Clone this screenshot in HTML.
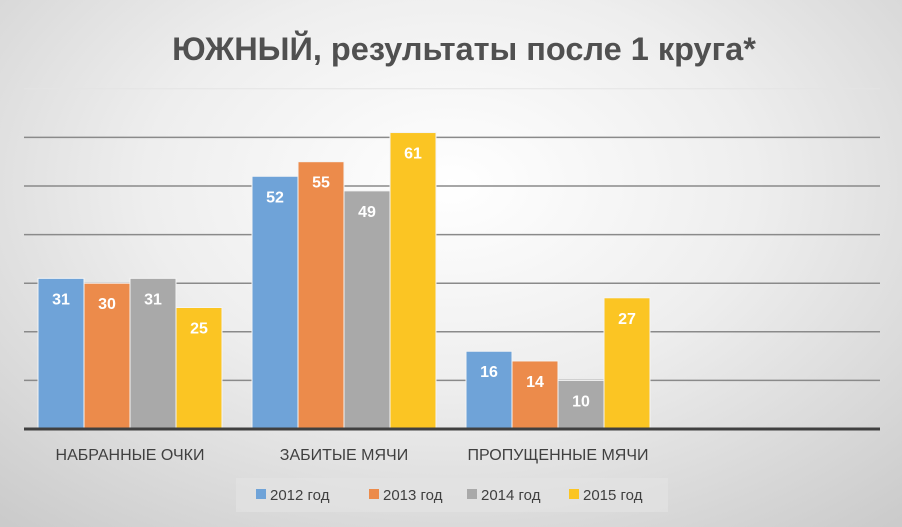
<!DOCTYPE html>
<html><head><meta charset="utf-8"><style>
html,body{margin:0;padding:0;}
body{width:902px;height:527px;overflow:hidden;font-family:"Liberation Sans","DejaVu Sans",sans-serif;}
#bg{position:absolute;left:0;top:0;width:902px;height:527px;background:radial-gradient(ellipse 75% 85% at 50% 35%,#ffffff 0%,#eeeeee 45%,#cbcbcb 100%);}
</style></head><body>
<div id="bg"></div>
<svg id="chart" width="902" height="527" style="position:absolute;left:0;top:0">
<text x="464" y="60" text-anchor="middle" font-size="32.5" font-weight="bold" fill="#505050" font-family="Liberation Sans, DejaVu Sans, sans-serif">ЮЖНЫЙ, результаты после 1 круга*</text>
<g id="grid"></g><g id="bars"></g><g id="labels"></g>
<g>
<rect x="236" y="478" width="432" height="34" fill="#e2e2e2" opacity="0.7"></rect>
<g id="legend"></g>
</g>
</svg>
<script>
const categories = ["НАБРАННЫЕ ОЧКИ","ЗАБИТЫЕ МЯЧИ","ПРОПУЩЕННЫЕ МЯЧИ",""];
const seriesNames = ["2012 год","2013 год","2014 год","2015 год"];
const s2012 = [31,52,16];
const s2013 = [30,55,14];
const s2014 = [31,49,10];
const s2015 = [25,61,27];
const gridTicks = [10,20,30,40,50,60,70];
const series = [s2012,s2013,s2014,s2015];
const colors = ["#6fa3d8","#ec8b4b","#a9a9a9","#fbc523"];
const NS="http://www.w3.org/2000/svg";
const plotL=24, plotR=880, axisY=429, pxPerUnit=4.86;
const catW=(plotR-plotL)/categories.length;
const barW=46;
function yScale(v){return axisY - v*pxPerUnit;}
function xBar(ci,si){return plotL+ci*catW+14+si*barW;}
function mk(tag,attrs,parent){const e=document.createElementNS(NS,tag);for(const k in attrs)e.setAttribute(k,attrs[k]);parent.appendChild(e);return e;}
const grid=document.getElementById('grid');
gridTicks.forEach(t=>{
  const l=mk('line',{x1:plotL,x2:plotR,y1:yScale(t),y2:yScale(t),stroke:t==70?'#e4e4e4':'#8a8a8a','stroke-width':t==70?1:1.5},grid);
  
  
});
const bars=document.getElementById('bars');
series.forEach((arr,si)=>{
  arr.forEach((v,ci)=>{
    const x=xBar(ci,si), y=yScale(v);
    const r=mk('rect',{x:x,y:y,width:barW,height:axisY-y,fill:colors[si],stroke:'#f4f4f4','stroke-width':1},bars);
    
    
    const t=mk('text',{x:x+barW/2,y:y+26,'text-anchor':'middle','font-size':16,'font-weight':'bold',fill:'#ffffff'},bars);
    t.textContent=v;
    
    
  });
});
const ax=mk('line',{x1:plotL,x2:plotR,y1:axisY,y2:axisY,stroke:'#404040','stroke-width':3},bars);


const labels=document.getElementById('labels');
categories.forEach((c,ci)=>{
  if(!c)return;
  const t=mk('text',{x:plotL+ci*catW+14+2*barW,y:460,'text-anchor':'middle','font-size':16,fill:'#404040'},labels);
  t.textContent=c;
  
  
});
const leg=document.getElementById('legend');
seriesNames.forEach((n,i)=>{
  const g=mk('g',{},leg);
  
  
  const lx=[256,369,467,569][i];
  mk('rect',{x:lx,y:489,width:10,height:10,fill:colors[i]},g);
  const t=mk('text',{x:lx+14,y:500,'font-size':15,fill:'#404040'},g);
  t.textContent=n;
});
</script>
</body></html>
